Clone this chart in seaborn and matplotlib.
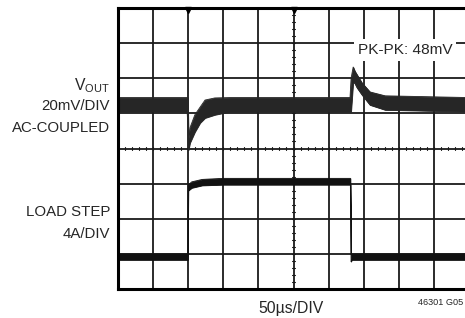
import matplotlib
matplotlib.use("Agg")
import matplotlib.pyplot as plt
import seaborn as sns
import pandas as pd

# ---- data (in scope divisions: x 0..10, y 0..8 from bottom) ----
vout_t  = [0.0, 1.97, 1.99, 2.01, 2.05, 2.19, 2.34, 2.48, 2.76, 3.2, 6.61, 6.64, 6.70, 6.75, 6.81, 6.95, 7.18, 7.61, 10.0]
vout_hi = [5.45, 5.45, 5.45, 4.30, 4.59, 4.96, 5.18, 5.38, 5.44, 5.45, 5.45, 6.00, 6.32, 6.20, 6.10, 5.87, 5.61, 5.50, 5.45]
vout_lo = [5.05, 5.05, 4.60, 3.96, 4.16, 4.47, 4.73, 4.87, 4.96, 5.05, 5.05, 5.05, 5.90, 5.85, 5.73, 5.53, 5.24, 5.10, 5.05]

load_t  = [0.0, 1.99, 2.00, 2.10, 2.40, 3.00, 6.62, 6.64, 6.66, 10.0]
load_hi = [1.00, 1.00, 2.96, 3.05, 3.12, 3.15, 3.15, 1.00, 1.00, 1.00]
load_lo = [0.83, 0.83, 2.80, 2.88, 2.95, 2.97, 2.97, 0.78, 0.83, 0.83]

left_labels = ["20mV/DIV", "AC-COUPLED", "LOAD STEP", "4A/DIV"]
pk_label = "PK-PK: 48mV"
time_label = "50\u00b5s/DIV"
fig_id = "46301 G05"

sns.set_style("white")
FONT = ['Liberation Sans', 'DejaVu Sans']
plt.rcParams['font.family'] = FONT
plt.rcParams['mathtext.fontset'] = 'custom'
plt.rcParams['mathtext.rm'] = 'Liberation Sans'

W, H = 465, 318
fig = plt.figure(figsize=(W / 100, H / 100), dpi=100)
ax = fig.add_axes([118 / W, 1 - 289 / H, 351 / W, 281 / H])
ax.set_xlim(0, 10)
ax.set_ylim(0, 8)

GRID = '#1a1a1a'
for v in range(1, 10):
    ax.axvline(v, color=GRID, lw=1.3, zorder=1)
for h in range(1, 8):
    ax.axhline(h, color=GRID, lw=1.3, zorder=1)
for s in ax.spines.values():
    s.set_color('black')
    s.set_linewidth(2.2)
ax.set_xticks([])
ax.set_yticks([])

# small ticks on centre lines
for i in range(1, 50):
    x = i * 0.2
    ax.plot([x, x], [3.95, 4.05], color=GRID, lw=0.8, zorder=1)
for i in range(1, 40):
    y = i * 0.2
    ax.plot([4.95, 5.05], [y, y], color=GRID, lw=0.8, zorder=1)
# trigger markers at top
ax.plot([2, 5], [7.95, 7.95], 'v', color='black', ms=4, clip_on=False, zorder=3)

df_v = pd.DataFrame({'t': vout_t, 'hi': vout_hi, 'lo': vout_lo})
df_l = pd.DataFrame({'t': load_t, 'hi': load_hi, 'lo': load_lo})
for df, col in ((df_v, '#262626'), (df_l, '#111111')):
    ax.fill_between(df['t'], df['lo'], df['hi'], color=col, lw=0.6, zorder=2)
    sns.lineplot(data=df, x='t', y='hi', ax=ax, color=col, lw=0.6, zorder=2)
    sns.lineplot(data=df, x='t', y='lo', ax=ax, color=col, lw=0.6, zorder=2)
ax.set_xlabel('')
ax.set_ylabel('')

def ft(x, y, s, **kw):
    fig.text(x / W, 1 - y / H, s, **kw)

FS = 10.8
ft(110, 90, r'$\mathrm{V}_{\mathrm{OUT}}$', ha='right', va='baseline', fontsize=FS + 0.5)
ft(110, 110, left_labels[0], ha='right', va='baseline', fontsize=FS)
ft(110, 132, left_labels[1], ha='right', va='baseline', fontsize=FS)
ft(110, 216, left_labels[2], ha='right', va='baseline', fontsize=FS)
ft(110, 238, left_labels[3], ha='right', va='baseline', fontsize=FS)
ft(358, 54, pk_label, ha='left', va='baseline', fontsize=FS + 0.3,
   bbox=dict(facecolor='white', edgecolor='none', pad=2.5))
ft(291, 313, time_label, ha='center', va='baseline', fontsize=FS + 0.5)
ft(418, 305, fig_id, ha='left', va='baseline', fontsize=6.6)

fig.savefig('out.png', dpi=100)
